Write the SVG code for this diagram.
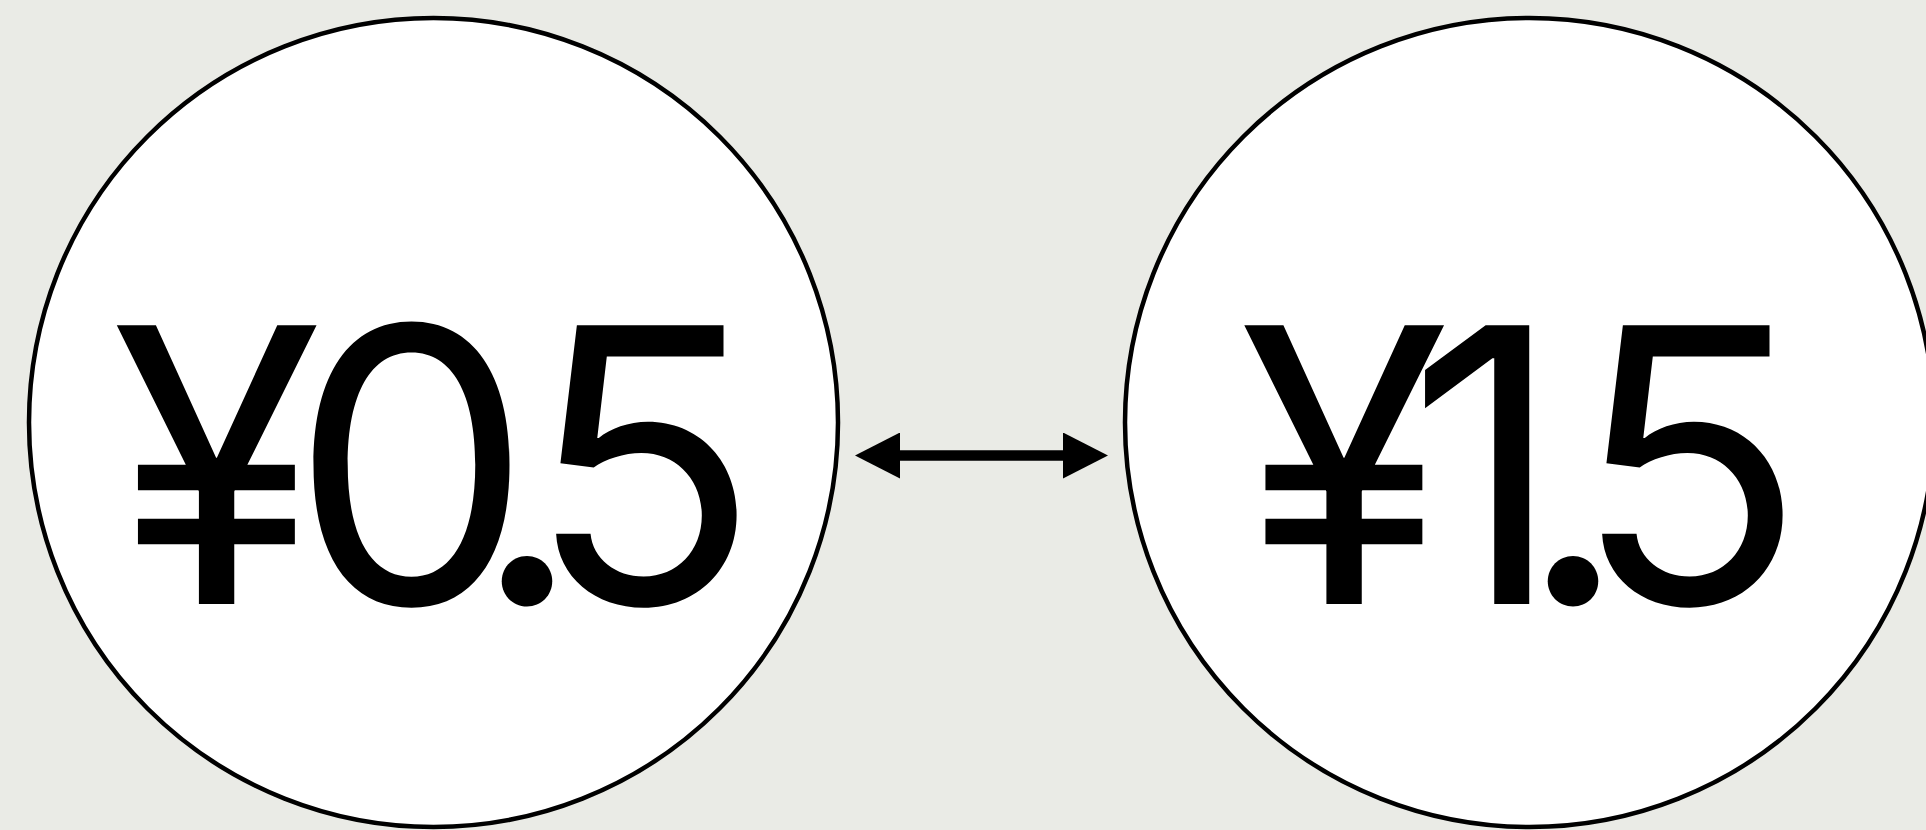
<svg xmlns="http://www.w3.org/2000/svg" width="1926" height="830" viewBox="0 0 1926 830">
  <style>
    .node { fill: #ffffff; stroke: #000000; stroke-width: 4.5; }
    .label { font-family: Inter, Roboto, "Liberation Sans", Arial, sans-serif; font-size: 383px; fill: #000000; text-anchor: middle; }
    .conn { stroke: #000000; stroke-width: 10.5; fill: none; }
  </style>
  <defs>
    <marker id="arrow" markerUnits="userSpaceOnUse" markerWidth="45" markerHeight="46" viewBox="0 0 45 46" refX="0" refY="23" orient="auto-start-reverse">
      <path d="M0,0 L45,23 L0,46 Z" fill="#000000"/>
    </marker>
  </defs>
  <rect x="0" y="0" width="1926" height="830" fill="#eaebe6"/>
  <g id="node-left">
    <circle class="node" cx="433.5" cy="422.5" r="404.5"/>
    <text class="label" x="216.5 411.5 527 643" y="604">¥0.5</text>
  </g>
  <g id="node-right">
    <circle class="node" cx="1529.5" cy="422.5" r="404.5"/>
    <text class="label" x="1344 1485 1573 1689" y="604">¥1.5</text>
  </g>
  <g id="connectors">
    <path class="conn" d="M900,455.5 L1063,455.5" marker-start="url(#arrow)" marker-end="url(#arrow)"/>
  </g>
</svg>
